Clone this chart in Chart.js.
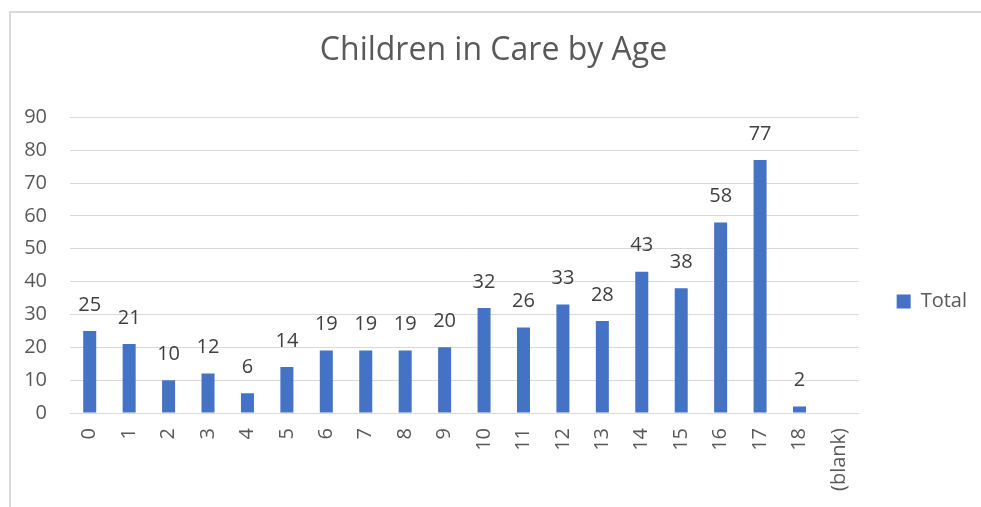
<!DOCTYPE html>
<html>
<head>
<meta charset="utf-8">
<script src="https://cdn.jsdelivr.net/npm/chart.js@4"></script>
<style>
  html, body { margin: 0; padding: 0; background: #fff; }
  #wrap { position: relative; width: 981px; height: 507px; }
  #frame { position: absolute; left: 9px; top: 11px; right: 0; bottom: 0;
           border-top: 2px solid #d9d9d9; border-left: 2px solid #d9d9d9; }
  canvas { position: absolute; left: 0; top: 0; }
</style>
</head>
<body>
<div id="wrap">
  <div id="frame"></div>
  <canvas id="ageChart" width="981" height="507"></canvas>
</div>
<script>
// Chart data
const ages = ['0', '1', '2', '3', '4', '5', '6', '7', '8', '9', '10', '11', '12', '13', '14', '15', '16', '17', '18', '(blank)'];
const totals = [25, 21, 10, 12, 6, 14, 19, 19, 19, 20, 32, 26, 33, 28, 43, 38, 58, 77, 2, null];
const yTicks = [0, 10, 20, 30, 40, 50, 60, 70, 80, 90];

const FONT = "'Open Sans', 'Liberation Sans', sans-serif";

// Draw value labels above each bar
const barValues = {
    id: 'barValues',
    afterDatasetsDraw(chart) {
        const ctx = chart.ctx;
        const meta = chart.getDatasetMeta(0);
        ctx.save();
        ctx.font = '20px ' + FONT;
        ctx.fillStyle = '#404040';
        ctx.textAlign = 'center';
        ctx.textBaseline = 'middle';
        meta.data.forEach((bar, i) => {
            const v = totals[i];
            if (v === null || v === undefined) return;
            ctx.fillText(String(v), bar.x, bar.y - 26);
        });
        ctx.restore();
    }
};

const ctx = document.getElementById('ageChart').getContext('2d');
const chart = new Chart(ctx, {
    type: 'bar',
    data: {
        labels: ages,
        datasets: [{
            label: 'Total',
            data: totals,
            backgroundColor: '#4472c4',
            categoryPercentage: 1.0,
            barPercentage: 0.33
        }]
    },
    options: {
        responsive: false,
        animation: false,
        layout: { padding: { left: 10, right: 4, top: 0, bottom: 0 } },
        plugins: {
            title: {
                display: true,
                text: 'Children in Care by Age',
                color: '#595959',
                font: { family: FONT, size: 32, weight: 'normal' },
                padding: { top: 32, bottom: 47 }
            },
            legend: {
                display: true,
                position: 'right',
                // blank legend title only pushes the entry down
                title: {
                    display: true,
                    text: ' ',
                    font: { size: 10 },
                    padding: { top: 0, bottom: 84 }
                },
                labels: {
                    boxWidth: 14,
                    boxHeight: 14,
                    color: '#595959',
                    font: { family: FONT, size: 20 },
                    padding: 10
                }
            },
            tooltip: { enabled: false }
        },
        scales: {
            x: {
                grid: { display: false, drawTicks: false },
                border: { color: '#d9d9d9', width: 1 },
                ticks: {
                    color: '#595959',
                    font: { family: FONT, size: 20 },
                    minRotation: 90,
                    maxRotation: 90,
                    padding: 15,
                    autoSkip: false
                },
                afterFit(scale) { scale.height = 94; }
            },
            y: {
                min: 0,
                max: 90,
                afterBuildTicks(scale) { scale.ticks = yTicks.map(v => ({ value: v })); },
                grid: { color: '#d9d9d9', drawTicks: false },
                border: { display: false },
                ticks: {
                    color: '#595959',
                    font: { family: FONT, size: 20 },
                    padding: 23
                },
                afterFit(scale) { scale.width = 60; }
            },
            // empty spacer axis between plot and legend
            gap: {
                type: 'linear',
                position: 'right',
                display: true,
                grid: { display: false, drawTicks: false },
                border: { display: false },
                ticks: { display: false },
                afterFit(scale) { scale.width = 28; }
            }
        }
    },
    plugins: [barValues]
});
</script>
</body>
</html>
